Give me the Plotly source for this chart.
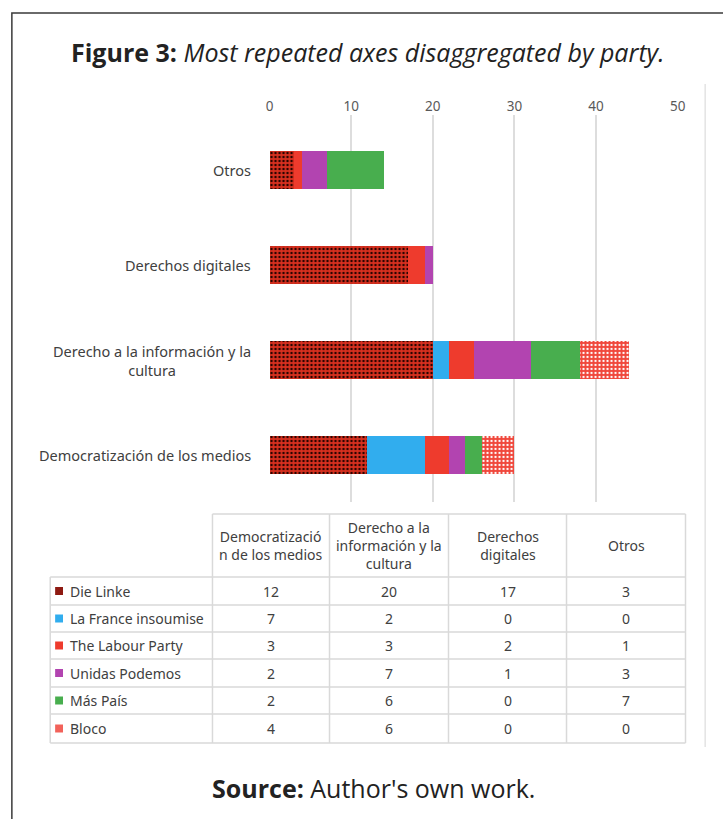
import plotly.graph_objects as go

# ---- data ----
categories = ["Democratización de los medios",
              "Derecho a la información y la cultura",
              "Derechos digitales",
              "Otros"]
category_labels = ["Democratización de los medios",
                   "Derecho a la información y la<br>cultura",
                   "Derechos digitales",
                   "Otros"]
table_headers = ["Democratizació<br>n de los medios",
                 "Derecho a la<br>información y la<br>cultura",
                 "Derechos<br>digitales", "Otros"]
parties = ["Die Linke", "La France insoumise", "The Labour Party",
           "Unidas Podemos", "Más País", "Bloco"]
die_linke = [12, 20, 17, 3]
la_france_insoumise = [7, 2, 0, 0]
labour = [3, 3, 2, 1]
unidas_podemos = [2, 7, 1, 3]
mas_pais = [2, 6, 0, 7]
bloco = [4, 6, 0, 0]
x_ticks = [0, 10, 20, 30, 40, 50]

series = [die_linke, la_france_insoumise, labour, unidas_podemos, mas_pais, bloco]
colors = ["#D42A1C", "#31ADEE", "#EE3B2D", "#B244B0", "#48AE4E", "#F0463A"]
key_colors = ["#8E1A12", "#31ADEE", "#EE3B2D", "#B244B0", "#48AE4E", "#F2625A"]
patterns = [dict(shape=".", bgcolor="#D8301F", fgcolor="#2A0400", size=4, solidity=0.3, fillmode="replace"),
            None, None, None, None,
            dict(shape=".", bgcolor="#F0463A", fgcolor="#FFFFFF", size=4, solidity=0.25, fillmode="replace")]

W, H = 723, 819
def px(x):
    return x / W
def py(y):
    return 1 - y / H

text_col = "#404040"
FONT = "Noto Sans"

fig = go.Figure()
for name, vals, c, pat in zip(parties, series, colors, patterns):
    m = dict(color=c, line=dict(width=0))
    if pat:
        m["pattern"] = pat
    fig.add_trace(go.Bar(y=list(range(len(categories))), x=vals, name=name,
                         orientation="h", marker=m, width=0.4,
                         showlegend=False, hoverinfo="x+name"))

annotations = []
shapes = []

# category labels
for i, lab in enumerate(category_labels):
    annotations.append(dict(x=px(253), y=i, xref="paper", yref="y", text=lab,
                            showarrow=False, xanchor="right", yanchor="middle",
                            align="center",
                            font=dict(family=FONT, size=14.5, color=text_col)))

# ---- data table (layout geometry) ----
col_x = [47, 212, 331, 452, 572, 693]
row_y = [514, 577, 605, 632, 659, 687, 714, 743]
grid_c = "#D9D9D9"
for k, yy in enumerate(row_y):
    x0 = col_x[1] if k == 0 else col_x[0]
    shapes.append(dict(type="line", xref="paper", yref="paper", x0=px(x0), x1=px(col_x[-1]),
                       y0=py(yy), y1=py(yy), line=dict(color=grid_c, width=1.5)))
for k, xx in enumerate(col_x):
    y0 = row_y[1] if k == 0 else row_y[0]
    shapes.append(dict(type="line", xref="paper", yref="paper", x0=px(xx), x1=px(xx),
                       y0=py(y0), y1=py(row_y[-1]), line=dict(color=grid_c, width=1.5)))
for j, h in enumerate(table_headers):
    annotations.append(dict(x=px((col_x[j + 1] + col_x[j + 2]) / 2), y=py((row_y[0] + row_y[1]) / 2),
                            xref="paper", yref="paper", text=h, showarrow=False,
                            xanchor="center", yanchor="middle", align="center",
                            font=dict(family=FONT, size=14, color=text_col)))
for r, (p, vals, kc) in enumerate(zip(parties, series, key_colors)):
    yc = (row_y[r + 1] + row_y[r + 2]) / 2
    shapes.append(dict(type="rect", xref="paper", yref="paper", x0=px(52), x1=px(60),
                       y0=py(yc + 4), y1=py(yc - 4), fillcolor=kc, line=dict(width=0)))
    annotations.append(dict(x=px(65), y=py(yc), xref="paper", yref="paper", text=p,
                            showarrow=False, xanchor="left", yanchor="middle",
                            font=dict(family=FONT, size=14, color=text_col)))
    for j, v in enumerate(vals):
        annotations.append(dict(x=px((col_x[j + 1] + col_x[j + 2]) / 2), y=py(yc),
                                xref="paper", yref="paper", text=str(v), showarrow=False,
                                xanchor="center", yanchor="middle",
                                font=dict(family=FONT, size=14, color=text_col)))

annotations.append(dict(x=px(370), y=py(52), xref="paper", yref="paper",
                        text="<b>Figure 3:</b> <i>Most repeated axes disaggregated by party.</i>",
                        showarrow=False, xanchor="center", yanchor="middle",
                        font=dict(family="Open Sans", size=25, color="#222222")))
annotations.append(dict(x=px(376), y=py(788), xref="paper", yref="paper",
                        text="<b>Source:</b> Author's own work.",
                        showarrow=False, xanchor="center", yanchor="middle",
                        font=dict(family="Open Sans", size=25, color="#222222")))

shapes += [
    dict(type="rect", xref="paper", yref="paper", x0=px(8), x1=px(740), y0=py(840), y1=py(13),
         line=dict(color="#3A3A3A", width=1.5), fillcolor="rgba(0,0,0,0)"),
    dict(type="line", xref="paper", yref="paper", x0=px(713), x1=px(713), y0=py(747), y1=py(84),
         line=dict(color="#E3E3E3", width=1.5)),
]

fig.update_layout(
    width=W, height=H,
    margin=dict(l=0, r=0, t=0, b=0),
    paper_bgcolor="white", plot_bgcolor="white",
    barmode="stack",
    xaxis=dict(domain=[px(270), px(685)], range=[0, 50], side="top",
               tickvals=x_ticks, showgrid=True, gridcolor="#DDDDDD", gridwidth=1.5,
               zeroline=False, showline=False, ticks="",
               tickfont=dict(family=FONT, size=13.5, color="#595959")),
    yaxis=dict(domain=[py(502), py(115)], range=[-0.495, 3.584],
               showticklabels=False, showgrid=False, zeroline=False, showline=False, ticks=""),
    annotations=annotations,
    shapes=shapes,
)

fig.write_html("out.html")
